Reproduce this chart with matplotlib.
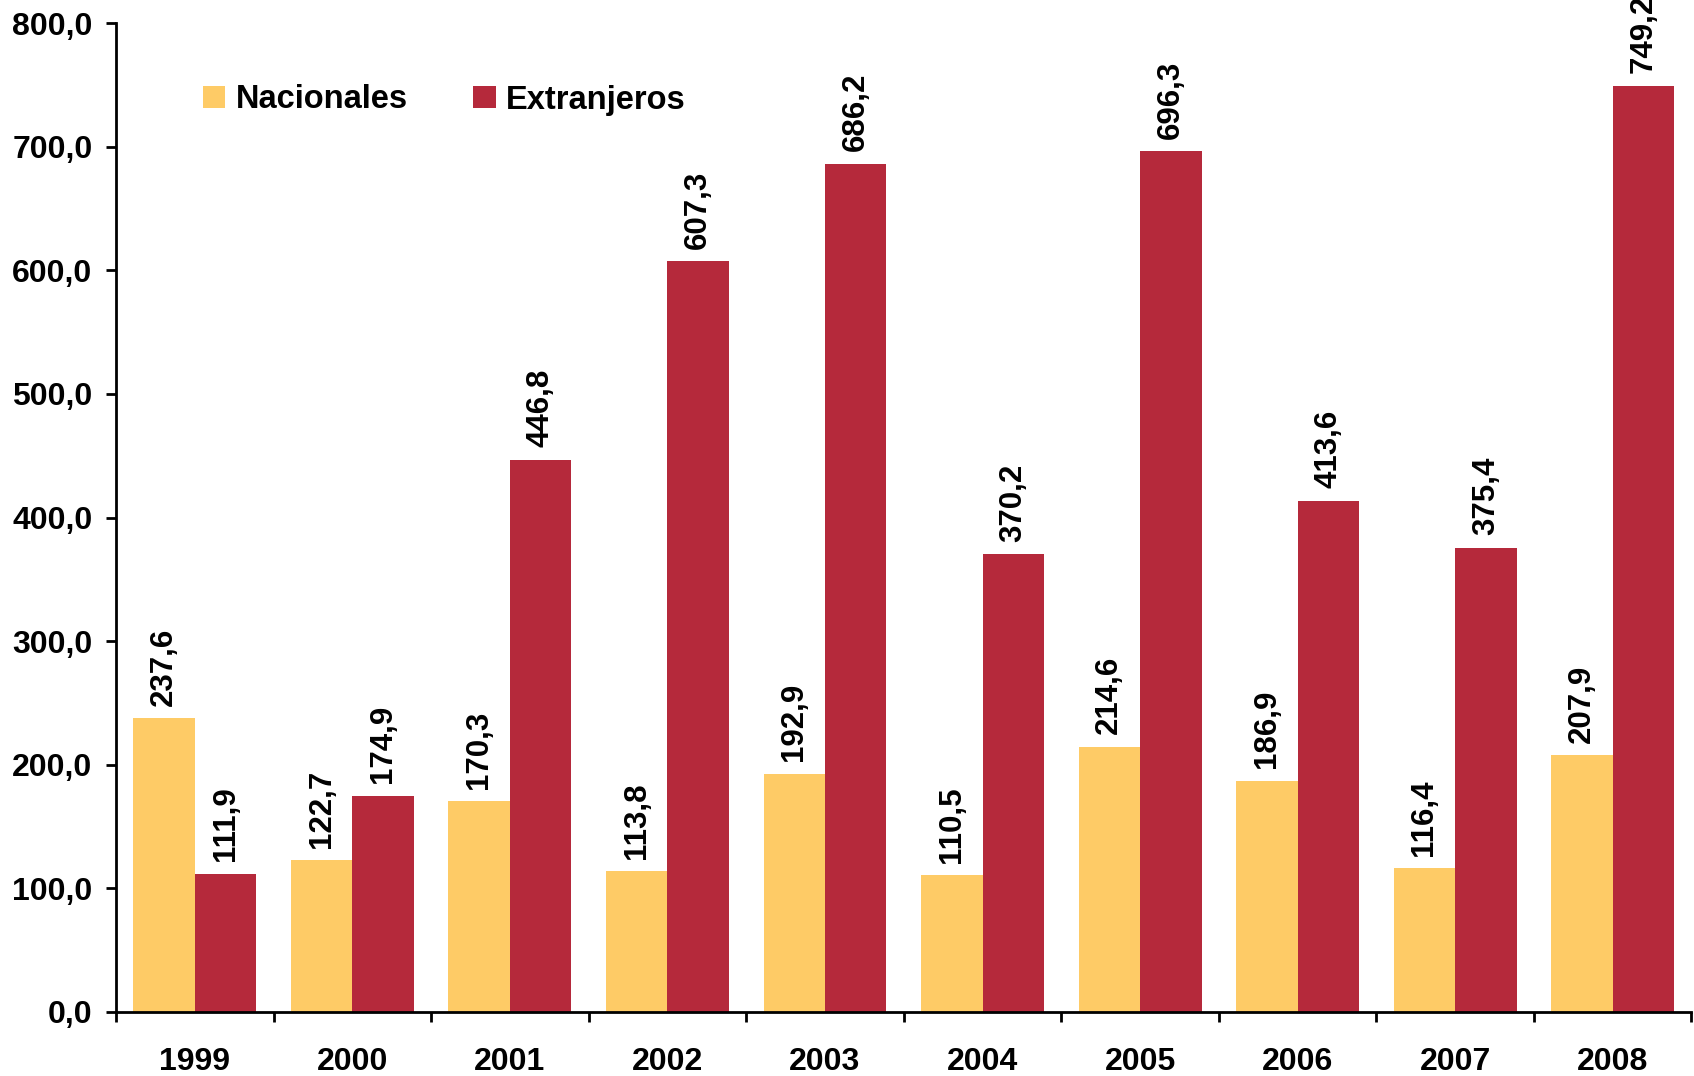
import matplotlib
matplotlib.use("Agg")
import matplotlib.pyplot as plt
import numpy as np
from matplotlib.ticker import FixedLocator

years = ["1999", "2000", "2001", "2002", "2003", "2004", "2005", "2006", "2007", "2008"]
nacionales = [237.6, 122.7, 170.3, 113.8, 192.9, 110.5, 214.6, 186.9, 116.4, 207.9]
extranjeros = [111.9, 174.9, 446.8, 607.3, 686.2, 370.2, 696.3, 413.6, 375.4, 749.2]
series_names = ["Nacionales", "Extranjeros"]
y_ticks = [0, 100, 200, 300, 400, 500, 600, 700, 800]

col_nac = "#FECB66"
col_ext = "#B5293B"

plt.rcParams["font.family"] = ["Liberation Sans", "DejaVu Sans"]
plt.rcParams["font.weight"] = "bold"

fig = plt.figure(figsize=(16.94, 10.76), dpi=100)
ax = fig.add_axes([0.0685, 0.0595, 0.930, 0.919])

x = np.arange(len(years))
w = 0.39
b1 = ax.bar(x - w / 2, nacionales, width=w, color=col_nac, label=series_names[0])
b2 = ax.bar(x + w / 2, extranjeros, width=w, color=col_ext, label=series_names[1])

def fmt(v):
    return f"{v:.1f}".replace(".", ",")

for bars, vals in ((b1, nacionales), (b2, extranjeros)):
    for rect, v in zip(bars, vals):
        ax.annotate(fmt(v), xy=(rect.get_x() + rect.get_width() / 2, v),
                    xytext=(0, 9), textcoords="offset points",
                    rotation=90, ha="center", va="bottom",
                    fontsize=22.5, fontweight="bold", annotation_clip=False,
                    clip_on=False)

ax.set_xlim(-0.5, len(years) - 0.5)
ax.set_ylim(0, 800)
ax.set_yticks(y_ticks)
ax.set_yticklabels([fmt(v) for v in y_ticks], fontsize=23, fontweight="bold")
ax.set_xticks(x)
ax.set_xticklabels(years, fontsize=23, fontweight="bold")
ax.xaxis.set_minor_locator(FixedLocator(np.arange(-0.5, len(years), 1.0)))
ax.tick_params(axis="x", which="major", length=0, pad=25)
ax.tick_params(axis="x", which="minor", length=7, width=2, direction="out")
ax.tick_params(axis="y", which="major", length=7, width=2, direction="out", pad=10)

for s in ("top", "right"):
    ax.spines[s].set_visible(False)
for s in ("left", "bottom"):
    ax.spines[s].set_linewidth(2)

fig.legend(handles=[b1, b2], loc="center left",
           bbox_to_anchor=(203 / 1694, 1 - 100 / 1076),
           ncol=2, frameon=False, handlelength=0.68,
           handleheight=0.68, handletextpad=0.33, columnspacing=2.0,
           borderpad=0, borderaxespad=0,
           prop={"weight": "bold", "size": 23.5})

fig.savefig("out.png", dpi=100)
